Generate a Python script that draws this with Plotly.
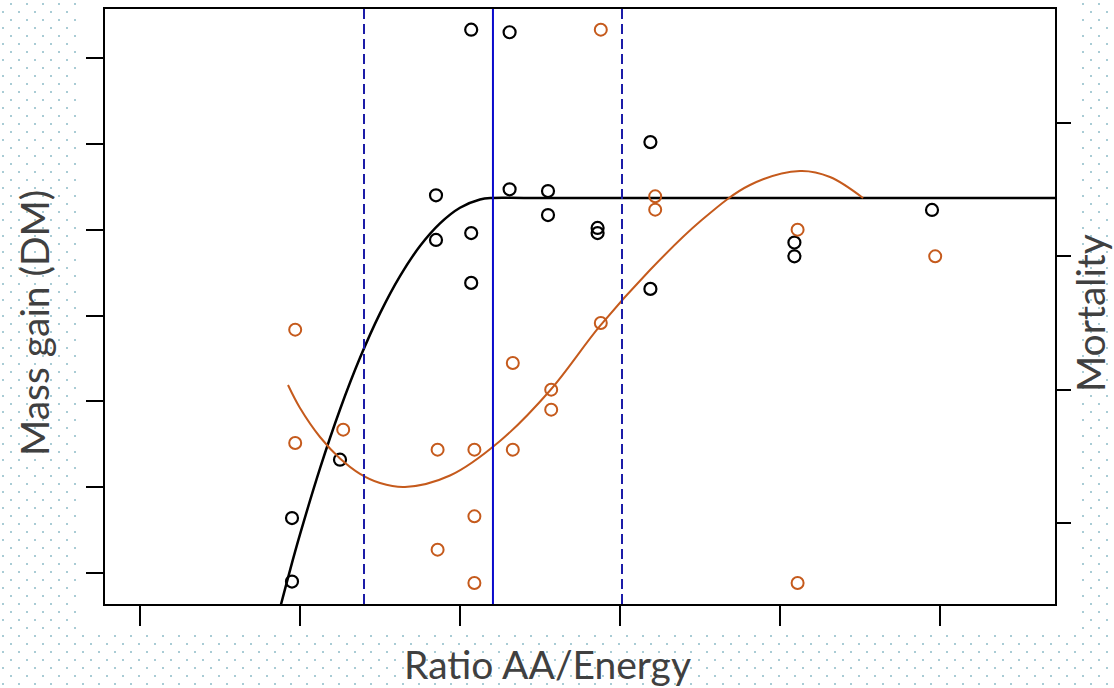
import base64
import plotly.graph_objects as go

# ---------------- data ----------------
x_ticks = [1, 2, 3, 4, 5, 6]
y_ticks = [1, 2, 3, 4, 5, 6, 7]
y2_ticks = [1, 2, 3, 4]

# Mass gain (left axis) observations
mass_x = [1.95, 1.95, 2.25, 2.85, 2.85, 3.07, 3.07, 3.07, 3.31, 3.31,
          3.55, 3.55, 3.86, 3.86, 4.19, 4.19, 5.09, 5.09, 5.95]
mass_y = [0.90, 1.64, 2.32, 5.40, 4.88, 4.96, 4.38, 7.33, 7.30, 5.47,
          5.45, 5.17, 5.02, 4.96, 6.02, 4.31, 4.85, 4.69, 5.23]

# Mortality (right axis) observations
mort_x = [1.97, 1.97, 2.27, 2.86, 2.86, 3.09, 3.09, 3.09, 3.33, 3.33,
          3.57, 3.57, 3.88, 3.88, 4.22, 4.22, 5.11, 5.11, 5.97]
mort_y = [2.45, 1.60, 1.70, 1.55, 0.80, 1.55, 1.05, 0.55, 1.55, 2.20,
          2.00, 1.85, 2.50, 4.70, 3.45, 3.35, 3.20, 0.55, 3.00]

# Fitted quadratic-plateau curve for mass gain
mass_fit_x = [1.844, 1.9375, 2.0, 2.125, 2.25, 2.375, 2.5, 2.625, 2.75,
              2.875, 3.0, 3.125, 3.206, 3.4, 4.0, 5.0, 6.0, 6.8]
mass_fit_y = [0.367, 1.031, 1.449, 2.219, 2.905, 3.507, 4.025, 4.459, 4.809,
              5.073, 5.255, 5.352, 5.369, 5.369, 5.369, 5.369, 5.369, 5.369]

# Fitted mortality curve
mort_fit_x = [1.925, 2.0, 2.125, 2.25, 2.375, 2.5, 2.656, 2.9375, 3.25,
              3.5625, 3.875, 4.1875, 4.5, 4.8125, 5.125, 5.3125, 5.519]
mort_fit_y = [2.035, 1.8625, 1.645, 1.484, 1.369, 1.30, 1.27, 1.356, 1.615,
              1.994, 2.478, 2.8975, 3.261, 3.535, 3.64, 3.595, 3.4375]

# Breakpoint and its confidence limits
breakpoint_x = 3.206
ci_x = [2.40, 4.0125]

# ---------------- styling ----------------
W, H = 1114, 688
BLACK = "#000000"
ORANGE = "#c55a1c"
TEXT = "#404040"
FONT = "Lato"
FSIZE = 39

svg = f"""<svg xmlns='http://www.w3.org/2000/svg' width='{W}' height='{H}'>
<defs><pattern id='p' width='16' height='16' patternUnits='userSpaceOnUse'>
<rect x='10' y='3' width='2' height='2' fill='#a9ccd5'/>
<rect x='2' y='11' width='2' height='2' fill='#a9ccd5'/>
</pattern></defs>
<rect width='{W}' height='{H}' fill='white'/>
<rect width='{W}' height='{H}' fill='url(#p)'/>
<rect x='78' y='0' width='1002' height='632' fill='white'/>
</svg>"""
svg_uri = "data:image/svg+xml;base64," + base64.b64encode(svg.encode()).decode()

fig = go.Figure()

fig.add_trace(go.Scatter(x=mass_fit_x, y=mass_fit_y, mode="lines",
                         line=dict(color=BLACK, width=2.5, shape="spline"), yaxis="y",
                         showlegend=False, hoverinfo="skip"))
fig.add_trace(go.Scatter(x=mort_fit_x, y=mort_fit_y, mode="lines",
                         line=dict(color=ORANGE, width=2, shape="spline"),
                         yaxis="y2", showlegend=False, hoverinfo="skip"))
fig.add_trace(go.Scatter(x=mass_x, y=mass_y, mode="markers", yaxis="y",
                         marker=dict(symbol="circle-open", size=12,
                                     color=BLACK, line=dict(width=2.2, color=BLACK)),
                         showlegend=False))
fig.add_trace(go.Scatter(x=mort_x, y=mort_y, mode="markers", yaxis="y2",
                         marker=dict(symbol="circle-open", size=12,
                                     color=ORANGE, line=dict(width=2, color=ORANGE)),
                         showlegend=False))

shapes = [dict(type="line", xref="x", yref="y domain", x0=breakpoint_x, x1=breakpoint_x,
               y0=0, y1=1, line=dict(color="#0a0acc", width=2), layer="above")]
for cx in ci_x:
    shapes.append(dict(type="line", xref="x", yref="y domain", x0=cx, x1=cx, y0=0, y1=1,
                       line=dict(color="#1c1ca8", width=2, dash="10px,5px"), layer="above"))

x_dom = [105 / W, 1055 / W]
y_dom = [1 - 604 / H, 1 - 9 / H]

axis_common = dict(showline=True, linecolor=BLACK, linewidth=2, ticks="outside",
                   tickwidth=2, tickcolor=BLACK, showticklabels=False,
                   showgrid=False, zeroline=False)

fig.update_layout(
    width=W, height=H,
    margin=dict(l=0, r=0, t=0, b=0),
    paper_bgcolor="white", plot_bgcolor="rgba(0,0,0,0)",
    xaxis=dict(domain=x_dom, range=[0.78125, 6.71875], tickvals=x_ticks,
               ticklen=20, mirror=True, **axis_common),
    yaxis=dict(domain=y_dom, range=[0.6388, 7.5709], tickvals=y_ticks,
               ticklen=17, mirror=True, **axis_common),
    yaxis2=dict(overlaying="y", side="right", anchor="x", range=[0.3925, 4.855],
                tickvals=y2_ticks, ticklen=15, ticks="outside", tickwidth=2,
                tickcolor=BLACK, showticklabels=False, showline=False,
                showgrid=False, zeroline=False),
    shapes=shapes,
    images=[dict(source=svg_uri, xref="paper", yref="paper", x=0, y=1,
                 sizex=1, sizey=1, xanchor="left", yanchor="top",
                 sizing="stretch", layer="below")],
    annotations=[
        dict(text="Ratio AA/Energy", xref="paper", yref="paper", x=547 / W, y=0,
             showarrow=False, font=dict(family=FONT, size=FSIZE, color=TEXT),
             xanchor="center", yanchor="bottom", borderpad=0),
        dict(text="Mass gain (DM)", xref="paper", yref="paper", x=34 / W, y=1 - 323 / H,
             showarrow=False, textangle=-90, font=dict(family=FONT, size=FSIZE, color=TEXT),
             xanchor="center", yanchor="middle"),
        dict(text="Mortality", xref="paper", yref="paper", x=1, y=1 - 313 / H,
             showarrow=False, textangle=-90, font=dict(family=FONT, size=FSIZE, color=TEXT),
             xanchor="right", yanchor="middle", borderpad=0),
    ],
)

fig.write_html("out.html")
